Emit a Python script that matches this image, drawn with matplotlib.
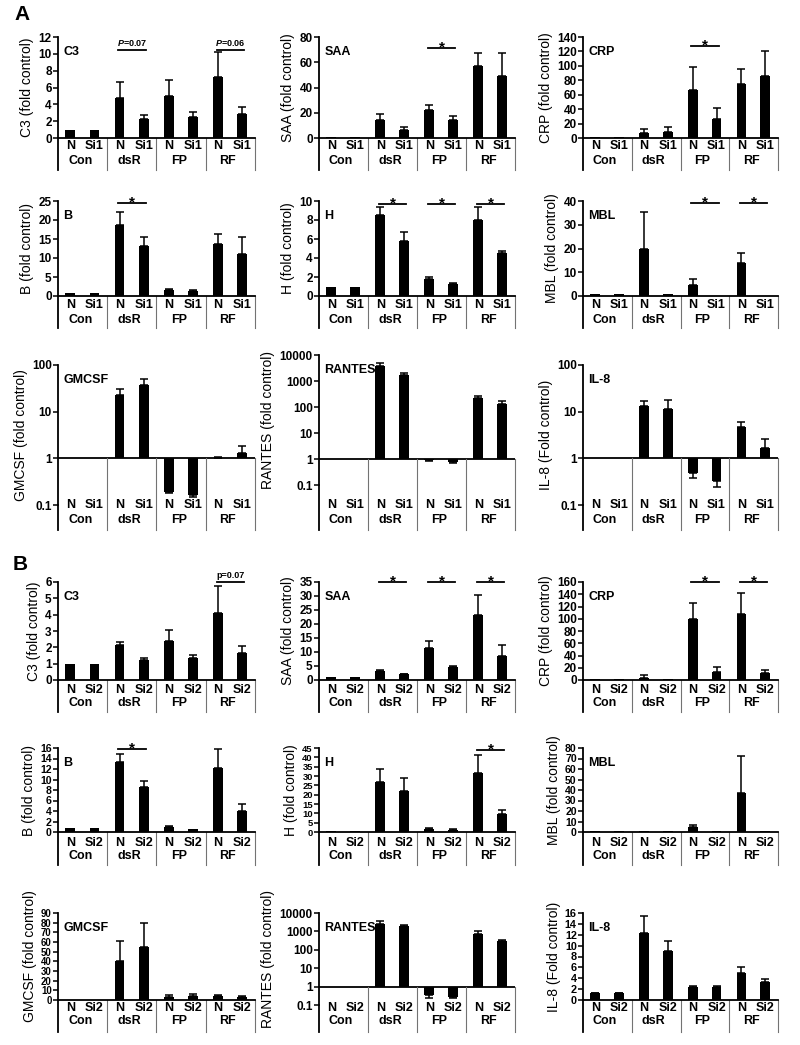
import matplotlib
matplotlib.use('Agg')
import matplotlib.pyplot as plt
from math import log10
from matplotlib.transforms import blended_transform_factory
from matplotlib.ticker import NullLocator

plt.rcParams['font.family'] = ['Liberation Sans', 'DejaVu Sans']
plt.rcParams['font.weight'] = 'bold'
plt.rcParams['mathtext.fontset'] = 'custom'
plt.rcParams['mathtext.it'] = 'Liberation Sans:italic:bold'
plt.rcParams['mathtext.rm'] = 'Liberation Sans:bold'

W, H = 800, 1045

groups = ['Con', 'dsR', 'FP', 'RF']

# ---- panel A (Si1) : order N, Si1 for Con, dsR, FP, RF
a_c3 = [1.0, 1.0, 4.8, 2.2, 4.95, 2.5, 7.3, 2.9]
a_c3_err = [0, 0, 1.8, 0.5, 1.9, 0.55, 2.9, 0.8]
a_saa = [0.4, 0.4, 14, 6.5, 22.5, 14, 57, 49]
a_saa_err = [0, 0, 5, 2.5, 4, 3.5, 10, 18]
a_crp = [1, 1, 7, 8, 66, 27, 75, 86]
a_crp_err = [0, 0, 5, 7, 33, 14, 21, 35]
a_b = [0.8, 0.8, 18.7, 13.1, 1.6, 1.4, 13.6, 11.1]
a_b_err = [0, 0, 3.3, 2.4, 0.2, 0.1, 2.8, 4.3]
a_h = [1.0, 1.0, 8.5, 5.75, 1.75, 1.3, 8.0, 4.5]
a_h_err = [0, 0, 0.9, 0.95, 0.25, 0.1, 1.4, 0.25]
a_mbl = [0.8, 0.8, 20, 0.8, 4.8, 0, 13.8, 0]
a_mbl_err = [0, 0, 15.5, 0, 2.2, 0, 4.5, 0]
a_gmcsf = [1, 1, 23, 37.5, 0.19, 0.16, 1.02, 1.28]
a_gmcsf_err = [0, 0, 7.5, 12.5, 0.01, 0.01, 0.05, 0.55]
a_rantes = [1, 1, 3800, 1700, 0.9, 0.75, 224, 131]
a_rantes_err = [0, 0, 1100, 400, 0.08, 0.05, 40, 43]
a_il8 = [1, 1, 13.3, 11.3, 0.48, 0.32, 4.7, 1.65]
a_il8_err = [0, 0, 3.5, 6.4, 0.1, 0.08, 1.3, 0.9]

# ---- panel B (Si2)
b_c3 = [1, 1, 2.13, 1.2, 2.38, 1.33, 4.1, 1.63]
b_c3_err = [0, 0, 0.17, 0.15, 0.67, 0.2, 1.67, 0.45]
b_saa = [1, 1, 3.3, 2.1, 11.3, 4.5, 23.2, 8.7]
b_saa_err = [0, 0, 0.3, 0.2, 2.6, 0.5, 7.2, 3.8]
b_crp = [1, 1, 4, 1.5, 99, 13, 107, 12]
b_crp_err = [0, 0, 4, 0, 27, 8, 35, 5]
b_b = [0.8, 0.8, 13.4, 8.5, 1.0, 0.6, 12.2, 4.0]
b_b_err = [0, 0, 1.5, 1.3, 0.2, 0, 3.6, 1.3]
b_h = [0.6, 0.6, 27, 22, 1.6, 1.2, 31.5, 9.8]
b_h_err = [0, 0, 7, 7, 0.5, 0.3, 9.5, 2]
b_mbl = [0.8, 0.8, 1, 1, 4.5, 0.8, 37, 1]
b_mbl_err = [0, 0, 0, 0, 2.5, 0, 35, 0]
b_gmcsf = [0.5, 0.5, 40, 55, 3.5, 4.5, 4, 3]
b_gmcsf_err = [0, 0, 21, 25, 1.5, 1.5, 1.5, 0.8]
b_rantes = [1, 1, 2500, 1900, 0.35, 0.28, 750, 300]
b_rantes_err = [0, 0, 1000, 400, 0.1, 0.05, 350, 50]
b_il8 = [1.2, 1.2, 12.3, 9, 2.3, 2.3, 5, 3.3]
b_il8_err = [0.1, 0.1, 3.1, 1.8, 0.3, 0.3, 1.1, 0.6]

# y ticks
lin = lambda top, step: list(range(0, top + 1, step))
log_small = [0.1, 1, 10, 100]
log_big = [0.1, 1, 10, 100, 1000, 10000]

# significance marks: (group index, text, y)
a_c3_sig = [(1, r'$\it{P}$=0.07', 10.4), (3, r'$\it{P}$=0.06', 10.4)]
a_saa_sig = [(2, '*', 71)]
a_crp_sig = [(2, '*', 127)]
a_b_sig = [(1, '*', 24.4)]
a_h_sig = [(1, '*', 9.66), (2, '*', 9.66), (3, '*', 9.66)]
a_mbl_sig = [(2, '*', 39.2), (3, '*', 39.2)]
b_c3_sig = [(3, 'p=0.07', 6.0)]
b_saa_sig = [(1, '*', 35), (2, '*', 35), (3, '*', 35)]
b_crp_sig = [(2, '*', 160), (3, '*', 160)]
b_b_sig = [(1, '*', 15.8)]
b_h_sig = [(3, '*', 44)]

charts = [
    ('A1', 0, 'C3', 'C3 (fold control)', a_c3, a_c3_err, 'Si1', 'linear', lin(12, 2), a_c3_sig),
    ('A1', 1, 'SAA', 'SAA (fold control)', a_saa, a_saa_err, 'Si1', 'linear', lin(80, 20), a_saa_sig),
    ('A1', 2, 'CRP', 'CRP (fold control)', a_crp, a_crp_err, 'Si1', 'linear', lin(140, 20), a_crp_sig),
    ('A2', 0, 'B', 'B (fold control)', a_b, a_b_err, 'Si1', 'linear', lin(25, 5), a_b_sig),
    ('A2', 1, 'H', 'H (fold control)', a_h, a_h_err, 'Si1', 'linear', lin(10, 2), a_h_sig),
    ('A2', 2, 'MBL', 'MBL (fold control)', a_mbl, a_mbl_err, 'Si1', 'linear', lin(40, 10), a_mbl_sig),
    ('A3', 0, 'GMCSF', 'GMCSF (fold control)', a_gmcsf, a_gmcsf_err, 'Si1', 'log', log_small, []),
    ('A3', 1, 'RANTES', 'RANTES (fold control)', a_rantes, a_rantes_err, 'Si1', 'log', log_big, []),
    ('A3', 2, 'IL-8', 'IL-8 (Fold control)', a_il8, a_il8_err, 'Si1', 'log', log_small, []),
    ('B1', 0, 'C3', 'C3 (fold control)', b_c3, b_c3_err, 'Si2', 'linear', lin(6, 1), b_c3_sig),
    ('B1', 1, 'SAA', 'SAA (fold control)', b_saa, b_saa_err, 'Si2', 'linear', lin(35, 5), b_saa_sig),
    ('B1', 2, 'CRP', 'CRP (fold control)', b_crp, b_crp_err, 'Si2', 'linear', lin(160, 20), b_crp_sig),
    ('B2', 0, 'B', 'B (fold control)', b_b, b_b_err, 'Si2', 'linear', lin(16, 2), b_b_sig),
    ('B2', 1, 'H', 'H (fold control)', b_h, b_h_err, 'Si2', 'linear', lin(45, 5), b_h_sig),
    ('B2', 2, 'MBL', 'MBL (fold control)', b_mbl, b_mbl_err, 'Si2', 'linear', lin(80, 10), []),
    ('B3', 0, 'GMCSF', 'GMCSF (fold control)', b_gmcsf, b_gmcsf_err, 'Si2', 'linear', lin(90, 10), []),
    ('B3', 1, 'RANTES', 'RANTES (fold control)', b_rantes, b_rantes_err, 'Si2', 'log', log_big, []),
    ('B3', 2, 'IL-8', 'IL-8 (Fold control)', b_il8, b_il8_err, 'Si2', 'linear', lin(16, 2), []),
]

# layout in pixels
cols = [(58, 255), (319, 515), (583, 778)]
row_boxes = {
    'A1': [(37, 138)] * 3,
    'A2': [(201, 296)] * 3,
    'A3': [(365, 505), (355, 485), (365, 505)],
    'B1': [(582, 680)] * 3,
    'B2': [(748, 832)] * 3,
    'B3': [(913, 1000), (913, 1005), (913, 1000)],
}
row_labels = {
    'A1': (146, 161, 170),
    'A2': (305, 320, 328),
    'A3': (505, 520, 530),
    'B1': (690, 703, 712),
    'B2': (843, 856, 865),
    'B3': (1008, 1021, 1032),
}


def fy(p):
    return 1 - p / H


def draw_chart(fig, row, col, name, ylabel, vals, errs, treat, scale, yticks, sig):
    xl, xr = cols[col]
    top, bot = row_boxes[row][col]
    lab1, lab2, sep_bot = row_labels[row]
    ax = fig.add_axes([xl / W, fy(bot), (xr - xl) / W, (bot - top) / H])

    base = 1 if scale == 'log' else 0
    if scale == 'log':
        ax.set_yscale('log')
    xs = []
    for i in range(4):
        xs += [i + 0.25, i + 0.74]
    for x, v, e in zip(xs, vals, errs):
        if v == 0:
            continue
        ax.bar(x, v - base, bottom=base, width=0.2, color='black')
        if e > 0:
            yerr = [[0], [e]] if v >= base else [[e], [0]]
            ax.errorbar(x, v, yerr=yerr, fmt='none', ecolor='black',
                        elinewidth=1.1, capsize=3, capthick=1.1)

    # tick label size shrinks when the ticks are packed
    spacing = (bot - top) / (len(yticks) - 1)
    tsize = min(8.5, spacing * 0.72)

    ax.set_xlim(0, 4)
    ax.set_ylim(yticks[0], yticks[-1])
    ax.set_yticks(yticks, ['{:g}'.format(t) for t in yticks])
    ax.yaxis.set_minor_locator(NullLocator())
    ax.set_xticks([])
    ax.tick_params(axis='y', direction='out', length=3.5, width=1.1, labelsize=tsize, pad=1)
    ax.spines['top'].set_visible(False)
    ax.spines['right'].set_visible(False)
    ax.spines['left'].set_linewidth(1.3)
    ax.spines['bottom'].set_linewidth(1.3)
    ax.set_ylabel(ylabel, fontsize=10, labelpad=3)

    if scale == 'log':
        ax.spines['bottom'].set_visible(False)
        ax.axhline(1, color='black', lw=1.3)
        lo, hi = log10(yticks[0]), log10(yticks[-1])
        y_base = top + (bot - top) * hi / (hi - lo)
    else:
        y_base = bot

    trans = blended_transform_factory(ax.transData, fig.transFigure)
    ax.plot([0, 0], [fy(bot), fy(sep_bot)], transform=trans, color='black',
            lw=1.3, clip_on=False)
    for gx in [1, 2, 3, 4]:
        ax.plot([gx, gx], [fy(y_base), fy(sep_bot)], transform=trans,
                color='0.45', lw=0.8, clip_on=False)
    for i, g in enumerate(groups):
        ax.text(i + 0.25, fy(lab1), 'N', transform=trans, ha='center', va='center', fontsize=9)
        ax.text(i + 0.74, fy(lab1), treat, transform=trans, ha='center', va='center', fontsize=9)
        ax.text(i + 0.45, fy(lab2), g, transform=trans, ha='center', va='center', fontsize=9)

    ax.annotate(name, xy=(0, 1), xycoords='axes fraction', xytext=(4, -11),
                textcoords='offset points', ha='left', va='center', fontsize=9)

    for gi, txt, y in sig:
        ax.plot([gi + 0.22, gi + 0.78], [y, y], color='black', lw=1.3, clip_on=False)
        if txt == '*':
            ax.annotate('*', xy=(gi + 0.5, y), xytext=(0, -2.5), textcoords='offset points',
                        ha='center', va='baseline', fontsize=11, fontweight='bold',
                        annotation_clip=False)
        else:
            ax.annotate(txt, xy=(gi + 0.5, y), xytext=(0, 1.5), textcoords='offset points',
                        ha='center', va='bottom', fontsize=6.5, annotation_clip=False)
    return ax


def main():
    fig = plt.figure(figsize=(W / 100, H / 100), dpi=100)
    for c in charts:
        draw_chart(fig, *c)
    fig.text(22 / W, fy(15), 'A', fontsize=15, fontweight='bold', ha='center', va='center')
    fig.text(20 / W, fy(565), 'B', fontsize=15, fontweight='bold', ha='center', va='center')
    fig.savefig('out.png', dpi=100)


if __name__ == '__main__':
    main()
